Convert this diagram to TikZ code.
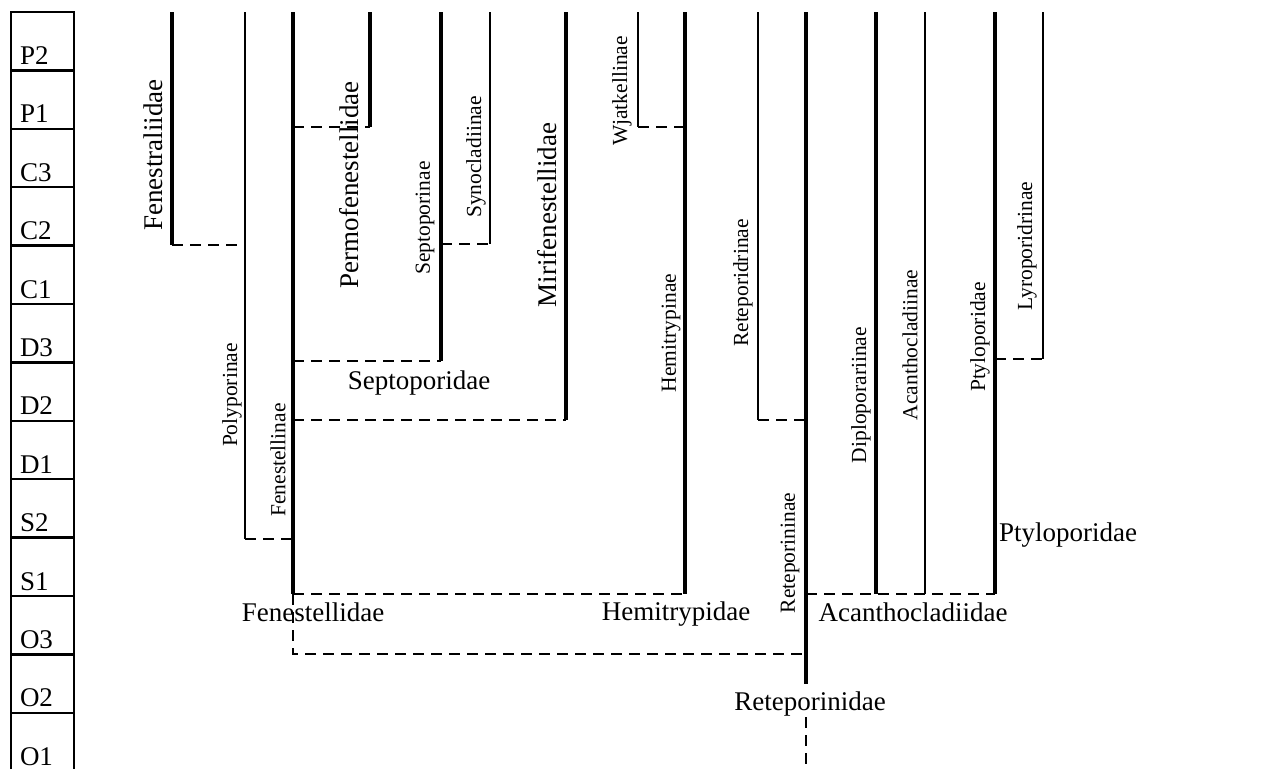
\documentclass[tikz,border=0pt]{standalone}
\usepackage{fontspec}
\setmainfont{Liberation Serif}
\tikzset{
  lineage/.style={draw=black,line width=3.4pt},
  sublineage/.style={draw=black,line width=2.2pt},
  link/.style={draw=black,line width=2.2pt,dash pattern=on 11pt off 7pt},
  family/.style={font=\fontsize{27}{30}\selectfont},
  vfamily/.style={font=\fontsize{27}{30}\selectfont,rotate=90},
  subfamily/.style={font=\fontsize{21.5}{24}\selectfont,rotate=90},
  stage/.style={font=\fontsize{27}{29}\selectfont,anchor=base west},
}
\begin{document}
\begin{tikzpicture}[x=1pt, y=-1pt, inner sep=0pt, outer sep=0pt]
\useasboundingbox (0,0) rectangle (1287,769);
% time scale
\path[draw=black,line width=2.4pt] (11,769) -- (11,12) -- (74,12) -- (74,769);
\foreach \k in {1,...,12}
  \path[draw=black,line width=2.4pt] (11,12+58.4*\k) -- (74,12+58.4*\k);
\foreach \st [count=\k] in {P2,P1,C3,C2,C1,D3,D2,D1,S2,S1,O3,O2,O1}
  \node[stage] (st\st) at (20,6+58.4*\k) {\st};
% Fenestellidae
\path[lineage] (172,12) -- (172,245);
\path[sublineage] (245,12) -- (245,539);
\path[lineage] (293,12) -- (293,594);
\path[lineage] (370,12) -- (370,127);
\path[lineage] (441,12) -- (441,361);
\path[sublineage] (490,12) -- (490,244);
\path[lineage] (566,12) -- (566,420);
\path[link] (172,245) -- (245,245);
\path[link] (245,539) -- (293,539);
\path[link] (293,127) -- (370,127);
\path[link] (293,361) -- (441,361);
\path[link] (441,244) -- (490,244);
\path[link] (293,420) -- (566,420);
% Hemitrypidae, Reteporinidae
\path[sublineage] (638,12) -- (638,127);
\path[lineage] (685,12) -- (685,594);
\path[sublineage] (758,12) -- (758,420);
\path[lineage] (806,12) -- (806,684);
\path[link] (638,127) -- (685,127);
\path[link] (293,594) -- (685,594);
\path[link] (758,420) -- (806,420);
\path[link] (293,594) -- (293,654) -- (806,654);
\path[link] (806,717) -- (806,769);
% Acanthocladiidae
\path[lineage] (876,12) -- (876,594);
\path[sublineage] (925,12) -- (925,594);
\path[lineage] (995,12) -- (995,594);
\path[sublineage] (1043,12) -- (1043,359);
\path[link] (806,594) -- (995,594);
\path[link] (995,359) -- (1043,359);
% labels
\node[vfamily] (fenestraliidae) at (153,155) {Fenestraliidae};
\node[subfamily] (polyporinae) at (232,395) {Polyporinae};
\node[subfamily] (fenestellinae) at (278,460) {Fenestellinae};
\node[vfamily] (permofenestellidae) at (349,185) {Permofenestellidae};
\node[subfamily] (septoporinae) at (425,218) {Septoporinae};
\node[subfamily] (synocladiinae) at (476,157) {Synocladiinae};
\node[vfamily] (mirifenestellidae) at (547,215) {Mirifenestellidae};
\node[subfamily] (wjatkellinae) at (622,91) {Wjatkellinae};
\node[subfamily] (hemitrypinae) at (671,333) {Hemitrypinae};
\node[subfamily] (reteporidrinae) at (743,283) {Reteporidrinae};
\node[subfamily] (reteporininae) at (790,553) {Reteporininae};
\node[subfamily] (diploporariinae) at (861,395) {Diploporariinae};
\node[subfamily] (acanthocladiinae) at (910,345) {Acanthocladiinae};
\node[subfamily] (ptyloporidaeR) at (980,337) {Ptyloporidae};
\node[subfamily] (lyroporidrinae) at (1027,246) {Lyroporidrinae};
\node[family] (septoporidae) at (419,383) {Septoporidae};
\node[family] (fenestellidae) at (313,612) {Fenestellidae};
\node[family] (hemitrypidae) at (676,614) {Hemitrypidae};
\node[family] (acanthocladiidae) at (913,612) {Acanthocladiidae};
\node[family] (ptyloporidae) at (1068,535) {Ptyloporidae};
\node[family] (reteporinidae) at (810,704) {Reteporinidae};
\end{tikzpicture}
\end{document}
